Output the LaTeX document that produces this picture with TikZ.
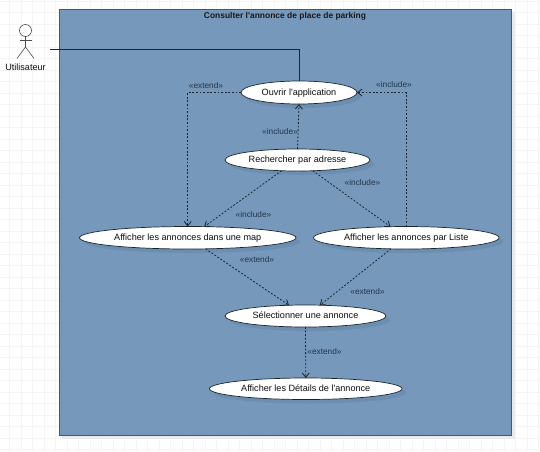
\documentclass[tikz,border=0pt]{standalone}
\usepackage{fontspec}
\newfontfamily\uifont{Liberation Sans}
\usetikzlibrary{shapes.geometric,arrows.meta}
\definecolor{boxfill}{HTML}{7598BB}
\definecolor{boxline}{HTML}{4A5866}
\definecolor{shade}{HTML}{6C8EB0}
\definecolor{inkc}{HTML}{1A2530}
\definecolor{lblc}{HTML}{25364A}
\definecolor{gridc}{HTML}{F5F5F5}
\tikzset{
  every node/.style={font=\uifont\fontsize{9.1}{10}\selectfont, text=black!95},
  usecase/.style={ellipse, draw=inkc, fill=white, line width=0.7pt, inner sep=0pt, outer sep=0pt,
    text height=6.5pt, text depth=1pt},
  usecaseshadow/.style={ellipse, fill=shade, inner sep=0pt, outer sep=0pt},
  dep/.style={dash pattern=on 1.8pt off 1.8pt, draw=inkc, line width=0.8pt,
    -{Straight Barb[length=4.5pt,width=7pt]}},
  assoc/.style={draw=inkc, line width=0.8pt},
  lbl/.style={font=\uifont\fontsize{8.3}{10}\selectfont, text=lblc, inner sep=0pt},
  stick/.style={draw=black!70, line width=0.6pt}
}
\begin{document}
\begin{tikzpicture}[x=1pt,y=-1pt]
\useasboundingbox (0,0) rectangle (540,451);
\fill[white] (0,0) rectangle (540,451);
% background grid
\foreach \gx in {9.5,21,32.5,44,55.5,67,78.5,90,101.5,113,124.5,136,147.5,159,170.5,182,193.5,205,216.5,228,239.5,251,262.5,274,285.5,297,308.5,320,331.5,343,354.5,366,377.5,389,400.5,412,423.5,435,446.5,458,469.5,481,492.5,504,515.5,527,538.5}
  \draw[gridc, line width=0.6pt] (\gx,0) -- (\gx,451);
\foreach \gy in {1,12.5,24,35.5,47,58.5,70,81.5,93,104.5,116,127.5,139,150.5,162,173.5,185,196.5,208,219.5,231,242.5,254,265.5,277,288.5,300,311.5,323,334.5,346,357.5,369,380.5,392,403.5,415,426.5,438,449.5}
  \draw[gridc, line width=0.6pt] (0,\gy) -- (540,\gy);
% system box
\fill[black!8] (62,12) rectangle (515,438.5);
\node[draw=boxline, fill=boxfill, line width=0.8pt, rectangle, inner sep=0pt, outer sep=0pt,
  minimum width=452.5pt, minimum height=426pt] (sys) at (285.25,222) {};
\node[font=\uifont\bfseries\fontsize{8.45}{10}\selectfont, text=black!90, inner sep=0pt] (title) at (285,16.5) {Consulter l'annonce de place de parking};
% actor
\node[circle, stick, fill=white, minimum size=12pt, inner sep=0pt, outer sep=0pt] (head) at (25.5,30.5) {};
\coordinate (hip) at (25.5,47);
\coordinate (armL) at (19.5,40);
\coordinate (armR) at (31.5,40);
\coordinate (footL) at (17,58.5);
\coordinate (footR) at (34,58.5);
\draw[stick] (head.south) -- (hip);
\draw[stick] (armL) -- (armR);
\draw[stick] (footL) -- (hip) -- (footR);
\node[inner sep=0pt] (actor) at (25.5,67) {Utilisateur};
\coordinate (actorport) at (50,49.5);
% shadows
\foreach \cx/\cy/\ew/\eh in {299/92.5/116/23, 297.5/160/145/22, 187.75/237.75/216.5/22.5, 406.25/237.75/185.5/22.5, 305.5/316/161/22, 305.75/388.75/192.5/21.5}
  \node[usecaseshadow, minimum width=\ew pt, minimum height=\eh pt] at (\cx+4,\cy+4) {};
% use cases
\node[usecase, minimum width=116pt, minimum height=23pt] (ouvrir) at (299,92.5) {Ouvrir l'application};
\node[usecase, minimum width=145pt, minimum height=22pt] (rech) at (297.5,160) {Rechercher par adresse};
\node[usecase, minimum width=216.5pt, minimum height=22.5pt] (map) at (187.75,237.75) {Afficher les annonces dans une map};
\node[usecase, minimum width=185.5pt, minimum height=22.5pt] (liste) at (406.25,237.75) {Afficher les annonces par Liste};
\node[usecase, minimum width=161pt, minimum height=22pt] (sel) at (305.5,316) {Sélectionner une annonce};
\node[usecase, minimum width=192.5pt, minimum height=21.5pt] (det) at (305.75,388.75) {Afficher les Détails de l'annonce};
% connectors
\draw[assoc] (actorport) -| (ouvrir.north);
\draw[dep] (ouvrir.west) -| (map.north);
\draw[dep] (liste.north) |- (ouvrir.east);
\draw[dep] (rech.north) -- (ouvrir.south);
\draw[dep] (rech.214.7) -- (map.34.7);
\draw[dep] (rech.325.3) -- (liste.145.3);
\draw[dep] (map.328.3) -- (sel.147.8);
\draw[dep] (liste.216.4) -- (sel.37.2);
\draw[dep] (sel.south) -- (det.north);
% labels
\node[lbl] (l1) at (206,85.5) {«extend»};
\node[lbl] (l2) at (394,84.5) {«include»};
\node[lbl] (l3) at (280,131.5) {«include»};
\node[lbl] (l4) at (362.5,183) {«include»};
\node[lbl] (l5) at (253.5,214.5) {«include»};
\node[lbl] (l6) at (257,260) {«extend»};
\node[lbl] (l7) at (367.5,292) {«extend»};
\node[lbl] (l8) at (324.5,352) {«extend»};
\end{tikzpicture}
\end{document}
